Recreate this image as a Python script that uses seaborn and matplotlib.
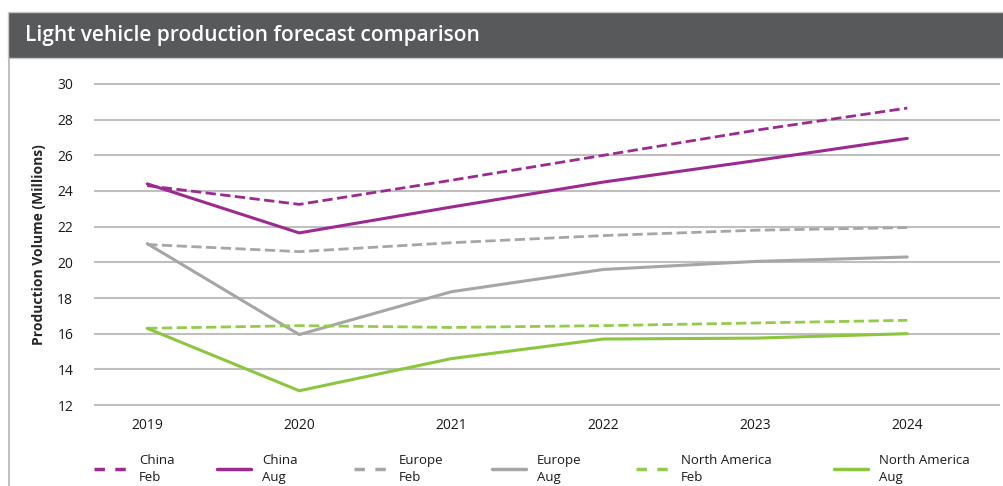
import matplotlib
matplotlib.use("Agg")
import matplotlib.pyplot as plt
import matplotlib.patches as mpatches
import matplotlib.lines as mlines
import pandas as pd
import seaborn as sns

years = [2019, 2020, 2021, 2022, 2023, 2024]
china_feb = [24.3, 23.25, 24.6, 26.0, 27.4, 28.65]
china_aug = [24.4, 21.65, 23.1, 24.5, 25.7, 26.95]
europe_feb = [21.0, 20.6, 21.1, 21.5, 21.8, 21.95]
europe_aug = [21.05, 15.95, 18.35, 19.6, 20.05, 20.3]
na_feb = [16.3, 16.45, 16.35, 16.45, 16.6, 16.75]
na_aug = [16.3, 12.8, 14.6, 15.7, 15.75, 16.0]

series = [
    ("China\nFeb", china_feb, "#9c2a91", "--"),
    ("China\nAug", china_aug, "#9c2a91", "-"),
    ("Europe\nFeb", europe_feb, "#a6a6a6", "--"),
    ("Europe\nAug", europe_aug, "#a6a6a6", "-"),
    ("North America\nFeb", na_feb, "#92cc48", "--"),
    ("North America\nAug", na_aug, "#8cc63f", "-"),
]

sns.set_style("white")
plt.rcParams['font.family'] = ['Open Sans', 'DejaVu Sans']

fig = plt.figure(figsize=(10.04, 4.86), dpi=100)

# title bar and panel border
fig.patches.append(mpatches.Rectangle((8/1004, 1-58/486), 1, 46/486, transform=fig.transFigure,
                                      facecolor="#58595b", edgecolor="#c8c8c8", lw=1))
fig.lines.append(mlines.Line2D([9/1004, 9/1004], [0, 1-58/486], transform=fig.transFigure,
                               color="#b5b5b5", lw=1.2))
fig.text(25/1004, 1-36/486, "Light vehicle production forecast comparison", color="white",
         fontsize=15, fontweight="semibold", va="center", ha="left")

ax = fig.add_axes([94/1004, 1-406.8/486, 906/1004, 324.6/486])

handles = []
for name, vals, col, ls in series:
    df = pd.DataFrame({"year": range(len(years)), "value": vals})
    sns.lineplot(data=df, x="year", y="value", ax=ax, color=col, linewidth=2.2 if ls == "-" else 2.0,
                 linestyle=ls, dashes=False if ls == "-" else (4, 3.5))
    h = mlines.Line2D([], [], color=col, linewidth=2.5, linestyle=ls)
    if ls == "--":
        h.set_dashes((3, 3))
    handles.append(h)

ax.set_xlim(-0.35, 5.61)
ax.set_ylim(11.9, 30.1)
ax.set_yticks(range(12, 31, 2))
ax.set_xticks(range(len(years)))
ax.set_xticklabels([str(y) for y in years])
ax.yaxis.grid(True, color="#bfbfbf", linewidth=1.5)
ax.set_axisbelow(True)
for s in ax.spines.values():
    s.set_visible(False)
ax.tick_params(axis="y", length=0, pad=15, labelsize=10, labelcolor="#1a1a1a")
ax.tick_params(axis="x", length=0, pad=8, labelsize=10, labelcolor="#1a1a1a")
ax.set_xlabel("")
ax.set_ylabel("Production Volume (Millions)", fontsize=10, fontweight="bold", labelpad=8)

# one legend entry per slot, spread like the reference
legend_x = [90, 213, 350, 488, 632, 830]
for h, (name, *_), lx in zip(handles, series, legend_x):
    leg = fig.legend([h], [name], loc="center left", bbox_to_anchor=(lx/1004, 1-469/486),
                     frameon=False, fontsize=9.5, handlelength=2.6, handletextpad=0.8,
                     borderaxespad=0, borderpad=0.3)
    for t in leg.get_texts():
        t.set_linespacing(1.45)
        t.set_color("#1a1a1a")

fig.savefig("out.png", dpi=100)
